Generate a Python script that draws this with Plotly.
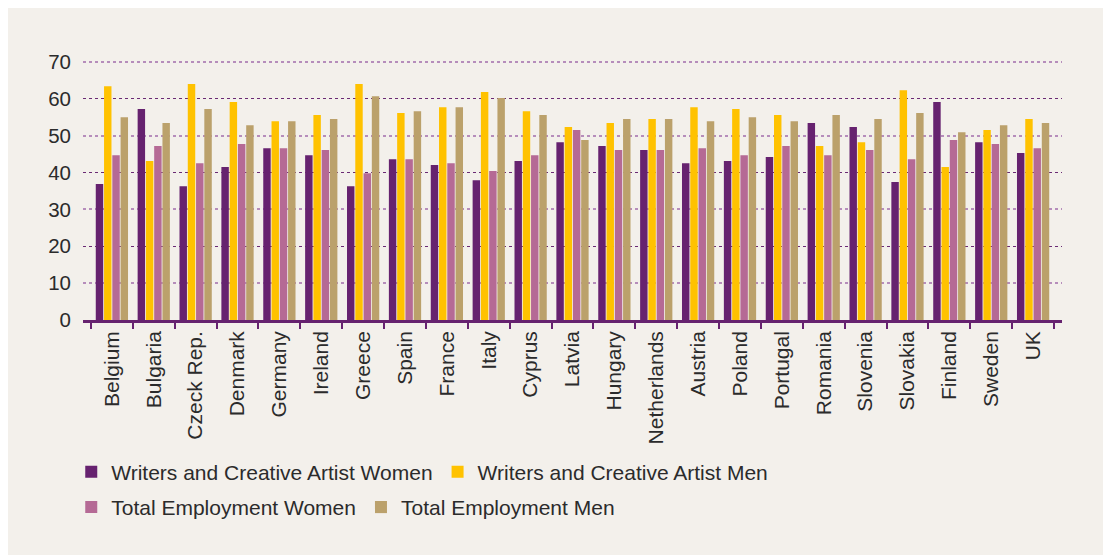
import plotly.graph_objects as go

countries = ["Belgium", "Bulgaria", "Czeck Rep.", "Denmark", "Germany", "Ireland", "Greece",
             "Spain", "France", "Italy", "Cyprus", "Latvia", "Hungary", "Netherlands",
             "Austria", "Poland", "Portugal", "Romania", "Slovenia", "Slovakia", "Finland",
             "Sweden", "UK"]

writers_women = [36.9, 57.2, 36.3, 41.5, 46.6, 44.7, 36.3, 43.6, 42.0, 37.9, 43.1, 48.2,
                 47.2, 46.1, 42.5, 43.1, 44.2, 53.4, 52.3, 37.4, 59.1, 48.2, 45.3]
writers_men = [63.4, 43.1, 64.0, 59.1, 53.9, 55.6, 64.0, 56.1, 57.7, 61.8, 56.6, 52.3,
               53.4, 54.5, 57.7, 57.2, 55.6, 47.2, 48.2, 62.3, 41.5, 51.5, 54.5]
total_women = [44.7, 47.2, 42.5, 47.7, 46.6, 46.1, 39.8, 43.6, 42.5, 40.4, 44.7, 51.5,
               46.1, 46.1, 46.6, 44.7, 47.2, 44.7, 46.1, 43.6, 48.8, 47.7, 46.6]
total_men = [55.0, 53.4, 57.2, 52.8, 53.9, 54.5, 60.7, 56.6, 57.7, 60.2, 55.6, 48.8,
             54.5, 54.5, 53.9, 55.0, 53.9, 55.6, 54.5, 56.1, 50.9, 52.8, 53.4]

major_ticks = [0, 20, 40, 60]
minor_ticks = [10, 30, 50, 70]

series = [
    ("Writers and Creative Artist Women", writers_women, "#66226F", "legend"),
    ("Writers and Creative Artist Men", writers_men, "#FFC200", "legend"),
    ("Total Employment Women", total_women, "#B56A95", "legend2"),
    ("Total Employment Men", total_men, "#BBA16B", "legend2"),
]

BG = "#F3F0EB"
PURPLE = "#66226F"
FONT = "Liberation Sans"
TXT = "#2B2B2B"

fig = go.Figure()
for name, vals, color, leg in series:
    fig.add_trace(go.Bar(x=countries, y=vals, name=name, marker_color=color,
                         marker_line_width=0, legend=leg))

# invisible helper trace so the second (label/grid-only) y axis is drawn
fig.add_trace(go.Scatter(x=countries, y=writers_women, yaxis="y2", mode="none",
                         showlegend=False, hoverinfo="skip"))

fig.update_layout(
    width=1111, height=555,
    margin=dict(l=75, r=57, t=52, b=243),
    paper_bgcolor=BG,
    plot_bgcolor="rgba(0,0,0,0)",
    barmode="group", bargap=0.21, bargroupgap=0.1,
    font=dict(family=FONT, size=20, color=TXT),
    xaxis=dict(type="category", range=[-0.69, 22.69], tickson="boundaries",
               ticks="outside", ticklen=6, tickwidth=1.5, tickcolor=PURPLE,
               showline=True, linecolor=PURPLE, linewidth=2.5, showgrid=False,
               tickangle=-90, tickfont=dict(family=FONT, size=21, color=TXT)),
    yaxis=dict(range=[0, 70.5], tickvals=major_ticks, showgrid=True, gridcolor="#6A2A74",
               gridwidth=1, griddash="dot", zeroline=False, showline=False,
               ticklabelstandoff=11,
               tickfont=dict(family=FONT, size=20.5, color=TXT), ticks="", layer="below traces"),
    yaxis2=dict(range=[0, 70.5], tickvals=minor_ticks, overlaying="y", side="left",
                showgrid=True, gridcolor="#B68DBB", gridwidth=2.2, griddash="dot",
                zeroline=False, showline=False, ticks="", layer="below traces",
                ticklabelstandoff=11,
                tickfont=dict(family=FONT, size=20.5, color=TXT)),
    legend=dict(orientation="h", x=-0.012, xanchor="left", y=-0.585, yanchor="middle",
                font=dict(family=FONT, size=21, color=TXT), bgcolor="rgba(0,0,0,0)",
                traceorder="normal"),
    legend2=dict(orientation="h", x=-0.012, xanchor="left", y=-0.721, yanchor="middle",
                 font=dict(family=FONT, size=21, color=TXT), bgcolor="rgba(0,0,0,0)",
                 traceorder="normal"),
)

fig.write_html("out.html")
